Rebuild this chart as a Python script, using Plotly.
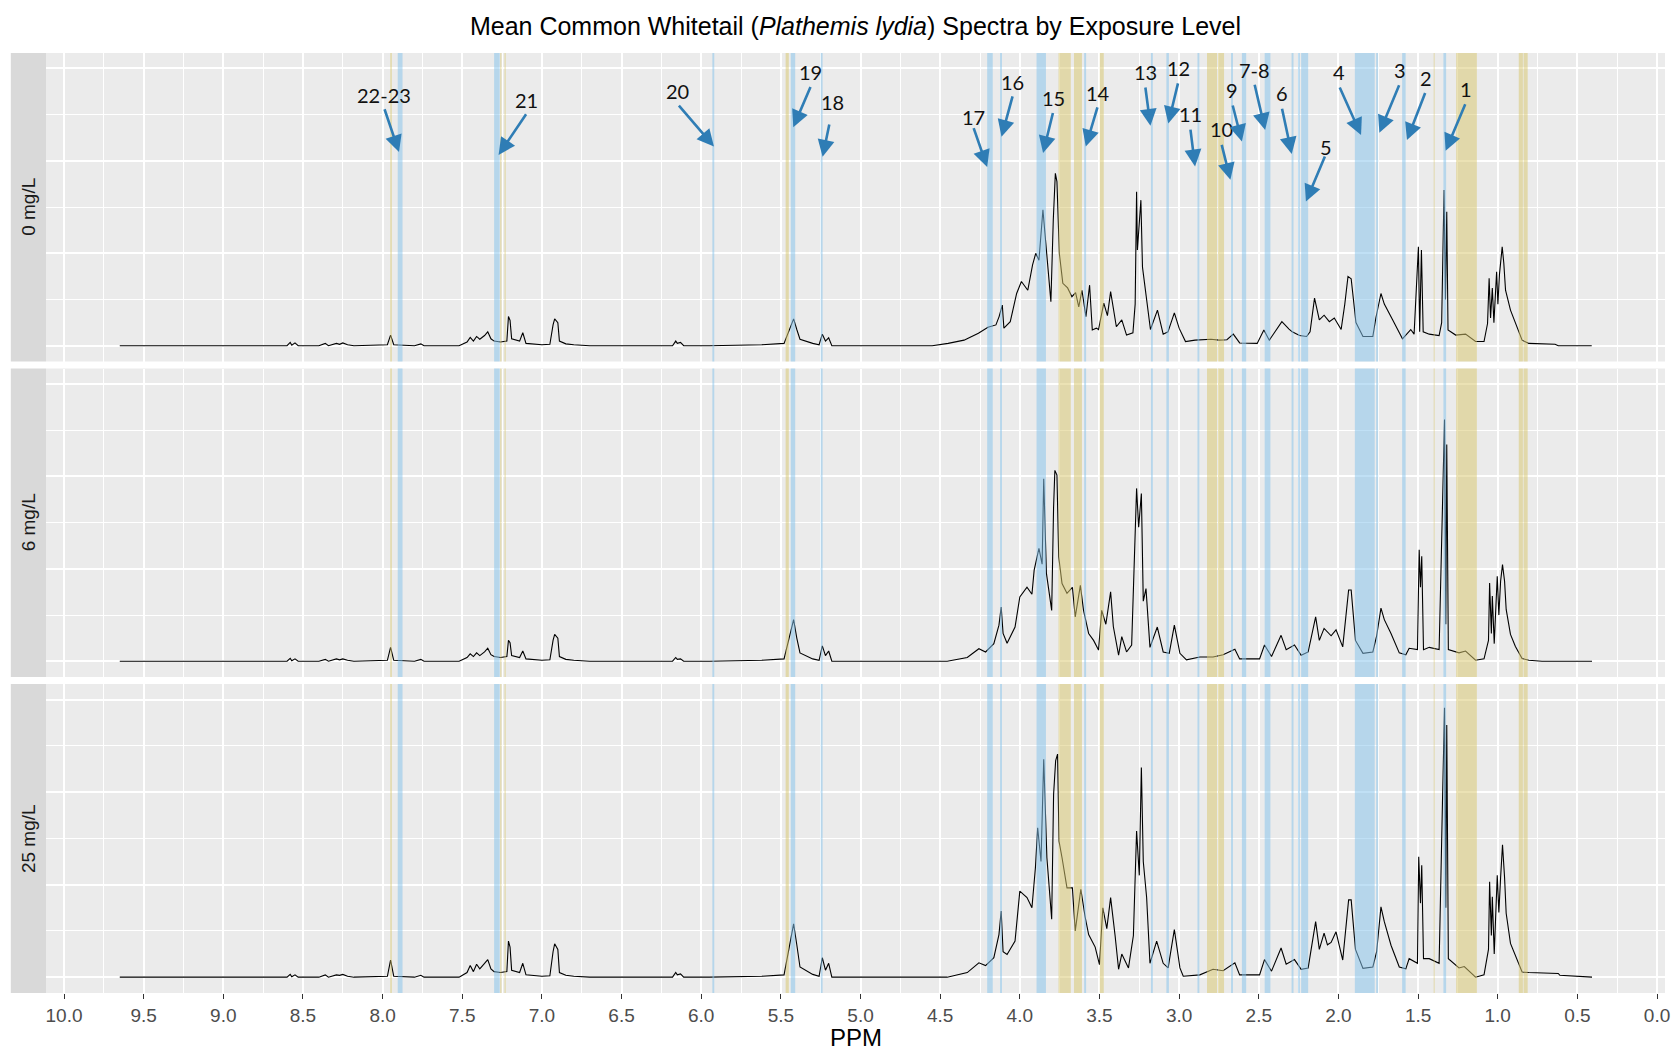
import plotly.graph_objects as go
from plotly.subplots import make_subplots

# ---------------- data ----------------
panel_labels = ["0 mg/L", "6 mg/L", "25 mg/L"]

# aromatic / low-field region (shared ppm grid)
left_ppm = [9.65, 8.60, 8.58, 8.57, 8.55, 8.53, 8.40, 8.36, 8.34, 8.29,
            8.27, 8.25, 8.22, 8.18, 7.97, 7.95, 7.93, 7.80, 7.76, 7.74,
            7.52, 7.47, 7.45, 7.43, 7.41, 7.39, 7.36, 7.34, 7.32, 7.30,
            7.26, 7.22, 7.21, 7.20, 7.19, 7.14, 7.12, 7.10, 7.00, 6.95,
            6.93, 6.92, 6.90, 6.89, 6.85, 6.80, 6.70, 6.18, 6.16, 6.15,
            6.13, 6.11, 5.95, 5.62, 5.48, 5.42, 5.40, 5.38, 5.30, 5.26,
            5.24, 5.22, 5.20, 5.18, 4.55]
left_int_0 = [0, 0, 0.07, 0.01, 0.06, 0, 0, 0.05, 0, 0.05,
              0.03, 0.06, 0.02, 0, 0.02, 0.23, 0.02, 0, 0.04, 0,
              0, 0.08, 0.18, 0.10, 0.20, 0.14, 0.22, 0.30, 0.15, 0.10,
              0.08, 0.10, 0.63, 0.55, 0.15, 0.10, 0.28, 0.05, 0.02, 0.03,
              0.45, 0.58, 0.50, 0.10, 0.04, 0.02, 0, 0, 0.10, 0.05,
              0.07, 0, 0, 0.02, 0.05, 0.58, 0.35, 0.14, 0.05, 0.02,
              0.25, 0.10, 0.17, 0, 0]
left_int_6 = [0, 0, 0.06, 0.01, 0.05, 0, 0, 0.04, 0, 0.05,
              0.03, 0.05, 0.02, 0, 0.02, 0.30, 0.02, 0, 0.04, 0,
              0, 0.08, 0.16, 0.10, 0.18, 0.12, 0.20, 0.28, 0.14, 0.10,
              0.08, 0.10, 0.45, 0.40, 0.12, 0.08, 0.22, 0.05, 0.02, 0.03,
              0.45, 0.58, 0.50, 0.10, 0.04, 0.02, 0, 0, 0.08, 0.04,
              0.05, 0, 0, 0.02, 0.05, 0.90, 0.50, 0.18, 0.05, 0.02,
              0.33, 0.12, 0.22, 0, 0]
left_int_25 = [0, 0, 0.06, 0.01, 0.05, 0, 0, 0.05, 0, 0.05,
               0.04, 0.06, 0.02, 0, 0.02, 0.37, 0.02, 0, 0.04, 0,
               0, 0.10, 0.25, 0.12, 0.28, 0.18, 0.30, 0.38, 0.18, 0.12,
               0.10, 0.12, 0.78, 0.65, 0.15, 0.10, 0.30, 0.05, 0.02, 0.03,
               0.55, 0.72, 0.60, 0.10, 0.04, 0.02, 0, 0, 0.10, 0.05,
               0.07, 0, 0, 0.02, 0.05, 1.15, 0.70, 0.22, 0.06, 0.02,
               0.42, 0.15, 0.30, 0, 0]

# aliphatic / high-field region, 0 mg/L
right_ppm_0 = [4.45, 4.35, 4.26, 4.20, 4.15, 4.13, 4.11, 4.10, 4.06, 4.02,
               3.99, 3.95, 3.92, 3.90, 3.88, 3.855, 3.83, 3.805, 3.79, 3.777,
               3.767, 3.752, 3.73, 3.70, 3.673, 3.65, 3.63, 3.61, 3.585, 3.562,
               3.545, 3.52, 3.506, 3.473, 3.45, 3.43, 3.394, 3.36, 3.33, 3.29,
               3.276, 3.267, 3.262, 3.24, 3.23, 3.21, 3.18, 3.136, 3.10, 3.07,
               3.03, 3.00, 2.96, 2.90, 2.80, 2.75, 2.70, 2.66, 2.62, 2.51,
               2.468, 2.434, 2.355, 2.31, 2.29, 2.244, 2.20, 2.178, 2.15, 2.12,
               2.09, 2.057, 2.026, 1.983, 1.96, 1.94, 1.92, 1.89, 1.846, 1.784,
               1.765, 1.733, 1.712, 1.66, 1.598, 1.546, 1.525, 1.498, 1.49, 1.479,
               1.468, 1.43, 1.368, 1.352, 1.345, 1.337, 1.328, 1.32, 1.312, 1.264,
               1.202, 1.139, 1.086, 1.064, 1.054, 1.045, 1.034, 1.024, 1.007, 0.999,
               0.989, 0.972, 0.962, 0.951, 0.92, 0.889, 0.847, 0.805, 0.64, 0.62,
               0.41]
right_int_0 = [0.05, 0.12, 0.27, 0.40, 0.45, 0.63, 0.88, 0.38, 0.52, 1.13,
               1.39, 1.20, 1.75, 2.00, 1.85, 2.94, 1.93, 0.95, 2.72, 3.73,
               3.55, 2.00, 1.35, 1.25, 1.06, 1.15, 0.84, 1.20, 0.63, 1.31,
               0.34, 0.38, 0.35, 0.92, 0.65, 1.17, 0.41, 0.56, 0.23, 0.28,
               0.90, 3.33, 2.07, 3.15, 1.70, 1.13, 0.35, 0.77, 0.25, 0.30,
               0.71, 0.38, 0.09, 0.12, 0.14, 0.12, 0.13, 0.25, 0.06, 0.05,
               0.34, 0.12, 0.52, 0.36, 0.30, 0.22, 0.20, 0.30, 1.03, 0.56,
               0.66, 0.52, 0.60, 0.35, 0.90, 1.50, 1.45, 0.50, 0.20, 0.20,
               0.60, 1.13, 0.90, 0.56, 0.15, 0.35, 0.25, 2.14, 0.30, 2.07,
               0.30, 0.25, 0.22, 0.50, 2.30, 3.37, 1.00, 2.90, 0.34, 0.23,
               0.25, 0.09, 0.09, 0.48, 1.46, 0.60, 1.25, 0.50, 1.60, 0.90,
               1.55, 2.14, 1.79, 1.20, 0.77, 0.49, 0.12, 0.05, 0.03, 0.0,
               0.0]

# 6 mg/L
right_ppm_6 = [4.456, 4.33, 4.257, 4.215, 4.163, 4.131, 4.117, 4.105, 4.08, 4.03,
               4.0, 3.955, 3.924, 3.91, 3.88, 3.86, 3.85, 3.833, 3.80, 3.788,
               3.78, 3.767, 3.756, 3.735, 3.704, 3.67, 3.652, 3.62, 3.60, 3.568,
               3.537, 3.506, 3.486, 3.46, 3.43, 3.413, 3.38, 3.36, 3.33, 3.298,
               3.277, 3.267, 3.254, 3.237, 3.225, 3.208, 3.183, 3.137, 3.10, 3.062,
               3.03, 2.995, 2.954, 2.87, 2.787, 2.724, 2.65, 2.62, 2.495, 2.464,
               2.42, 2.36, 2.328, 2.276, 2.234, 2.19, 2.143, 2.12, 2.09, 2.046,
               2.015, 1.973, 1.936, 1.92, 1.893, 1.846, 1.784, 1.76, 1.733, 1.712,
               1.67, 1.618, 1.577, 1.556, 1.504, 1.493, 1.485, 1.477, 1.466, 1.43,
               1.368, 1.347, 1.334, 1.326, 1.32, 1.31, 1.243, 1.202, 1.139, 1.086,
               1.058, 1.051, 1.04, 1.034, 1.022, 1.003, 0.993, 0.982, 0.97, 0.957,
               0.947, 0.92, 0.889, 0.847, 0.805, 0.722, 0.408]
right_int_6 = [0.0, 0.08, 0.27, 0.20, 0.38, 0.78, 1.17, 0.60, 0.39, 0.74,
               1.39, 1.60, 1.45, 1.97, 2.44, 2.10, 3.95, 1.90, 1.10, 3.34,
               4.13, 4.03, 2.26, 1.68, 1.47, 1.60, 0.96, 1.64, 1.10, 0.60,
               0.45, 0.24, 1.10, 0.80, 1.50, 0.75, 0.13, 0.53, 0.20, 0.35,
               2.69, 3.74, 2.90, 3.63, 1.30, 1.57, 0.30, 0.74, 0.20, 0.17,
               0.78, 0.17, 0.03, 0.09, 0.09, 0.14, 0.26, 0.05, 0.05, 0.35,
               0.10, 0.56, 0.25, 0.35, 0.13, 0.20, 0.96, 0.45, 0.71, 0.55,
               0.68, 0.31, 1.54, 1.54, 0.45, 0.17, 0.20, 0.55, 1.15, 0.90,
               0.60, 0.18, 0.14, 0.28, 0.25, 2.41, 1.60, 2.27, 0.25, 0.30,
               0.25, 3.27, 5.23, 0.80, 4.69, 0.25, 0.18, 0.22, 0.02, 0.05,
               0.45, 1.69, 0.60, 1.41, 0.38, 1.84, 1.00, 1.73, 2.09, 1.73,
               1.12, 0.58, 0.32, 0.06, 0.02, 0.0, 0.0]

# 25 mg/L
right_ppm_25 = [4.456, 4.33, 4.257, 4.215, 4.163, 4.131, 4.117, 4.105, 4.08, 4.03,
                4.0, 3.955, 3.924, 3.902, 3.888, 3.867, 3.85, 3.83, 3.80, 3.788,
                3.775, 3.763, 3.754, 3.735, 3.704, 3.67, 3.652, 3.617, 3.59, 3.568,
                3.527, 3.50, 3.479, 3.454, 3.43, 3.402, 3.38, 3.36, 3.318, 3.287,
                3.267, 3.25, 3.237, 3.225, 3.204, 3.183, 3.141, 3.10, 3.069, 3.03,
                2.995, 2.974, 2.87, 2.787, 2.724, 2.65, 2.62, 2.495, 2.464, 2.42,
                2.36, 2.328, 2.276, 2.234, 2.19, 2.143, 2.12, 2.09, 2.069, 2.046,
                2.015, 1.973, 1.936, 1.92, 1.893, 1.846, 1.784, 1.76, 1.733, 1.712,
                1.67, 1.618, 1.577, 1.556, 1.504, 1.496, 1.485, 1.477, 1.466, 1.43,
                1.368, 1.347, 1.334, 1.326, 1.32, 1.31, 1.243, 1.21, 1.139, 1.086,
                1.058, 1.051, 1.04, 1.034, 1.022, 1.003, 0.993, 0.982, 0.97, 0.957,
                0.947, 0.92, 0.889, 0.847, 0.805, 0.62, 0.61, 0.408]
right_int_25 = [0.0, 0.10, 0.31, 0.25, 0.42, 0.92, 1.43, 0.55, 0.49, 0.78,
                1.86, 1.72, 1.50, 2.37, 3.23, 2.50, 4.71, 2.58, 1.25, 3.95,
                4.68, 4.82, 2.94, 2.58, 1.93, 1.93, 1.00, 1.90, 1.30, 0.92,
                0.65, 0.27, 1.50, 1.05, 1.72, 0.90, 0.17, 0.50, 0.20, 0.90,
                3.16, 2.20, 4.53, 2.50, 1.72, 0.30, 0.78, 0.30, 0.20, 1.03,
                0.20, 0.02, 0.05, 0.17, 0.14, 0.31, 0.05, 0.05, 0.38, 0.13,
                0.63, 0.28, 0.38, 0.17, 0.20, 1.20, 0.60, 0.95, 0.70, 0.75,
                0.98, 0.37, 1.67, 1.67, 0.60, 0.19, 0.22, 0.55, 1.52, 1.20,
                0.69, 0.22, 0.18, 0.40, 0.30, 2.60, 1.60, 2.42, 0.40, 0.40,
                0.30, 3.76, 5.82, 1.50, 5.45, 0.40, 0.20, 0.23, 0.0, 0.05,
                0.60, 2.06, 0.90, 1.74, 0.50, 2.20, 1.40, 2.15, 2.86, 2.15,
                1.38, 0.73, 0.45, 0.11, 0.10, 0.08, 0.04, 0.0]

# highlighted bins (ppm ranges)
blue_lo = [7.875, 7.265, 5.918, 5.410, 5.238, 4.170, 4.112, 3.836, 3.584, 3.165, 3.064,
           2.873, 2.662, 2.579, 2.427, 2.282, 2.242, 2.190, 1.772, 1.751, 1.578, 1.324]
blue_hi = [7.905, 7.300, 5.930, 5.438, 5.250, 4.205, 4.124, 3.895, 3.596, 3.177, 3.080,
           2.885, 2.674, 2.606, 2.463, 2.294, 2.254, 2.234, 1.897, 1.763, 1.600, 1.341]
tan_lo = [7.942, 7.254, 7.227, 5.450, 3.680, 3.610, 3.473, 2.762, 2.718, 1.396, 1.131, 0.842, 0.812]
tan_hi = [7.952, 7.262, 7.235, 5.470, 3.757, 3.660, 3.498, 2.825, 2.756, 1.402, 1.261, 0.868, 0.838]

# peak annotations in the 0 mg/L panel: label, text pos, arrow tail, arrow head (ppm, intensity)
ann_label = ["22-23", "21", "20", "19", "18", "17", "16", "15", "14", "13", "12",
             "11", "10", "9", "7-8", "6", "5", "4", "3", "2", "1"]
ann_text_x = [7.991, 7.096, 6.148, 5.314, 5.175, 4.293, 4.043, 3.790, 3.510, 3.213, 3.005,
              2.930, 2.735, 2.666, 2.528, 2.356, 2.081, 1.996, 1.615, 1.452, 1.200]
ann_text_y = [5.43, 5.32, 5.52, 5.93, 5.28, 4.95, 5.71, 5.37, 5.48, 5.93, 6.00,
              5.01, 4.68, 5.54, 5.97, 5.46, 4.29, 5.93, 5.97, 5.80, 5.55]
ann_tail_x = [7.991, 7.093, 6.148, 5.310, 5.194, 4.293, 4.043, 3.790, 3.510, 3.213, 3.005,
              2.930, 2.735, 2.666, 2.528, 2.356, 2.081, 1.996, 1.615, 1.452, 1.200]
ann_tail_y = [5.15, 5.04, 5.23, 5.63, 4.82, 4.74, 5.43, 5.07, 5.19, 5.62, 5.71,
              4.71, 4.38, 5.23, 5.68, 5.16, 4.13, 5.62, 5.67, 5.50, 5.26]
ann_head_x = [7.897, 7.272, 5.920, 5.422, 5.238, 4.205, 4.115, 3.854, 3.586, 3.180, 3.068,
              2.900, 2.678, 2.606, 2.460, 2.293, 2.204, 1.858, 1.743, 1.570, 1.327]
ann_head_y = [4.19, 4.13, 4.31, 4.73, 4.09, 3.87, 4.52, 4.17, 4.31, 4.76, 4.81,
              3.88, 3.59, 4.42, 4.67, 4.15, 3.12, 4.56, 4.61, 4.45, 4.22]

x_ticks = [10.0, 9.5, 9.0, 8.5, 8.0, 7.5, 7.0, 6.5, 6.0, 5.5, 5.0,
           4.5, 4.0, 3.5, 3.0, 2.5, 2.0, 1.5, 1.0, 0.5, 0.0]

# ---------------- figure ----------------
W, H = 1677, 1050
ML, MR, MT, MB = 46, 7, 53, 57
PW = W - ML - MR
PH = H - MT - MB

panel_px = [(53, 361.5), (368.5, 677), (684, 993)]
domains = [[(H - MB - b) / PH, (H - MB - t) / PH] for t, b in panel_px]
domains[0][1] = 1.0
domains[2][0] = 0.0

fig = make_subplots(rows=3, cols=1, shared_xaxes=True, vertical_spacing=0.01)

series = [(left_ppm + right_ppm_0, left_int_0 + right_int_0),
          (left_ppm + right_ppm_6, left_int_6 + right_int_6),
          (left_ppm + right_ppm_25, left_int_25 + right_int_25)]

for i, (xs, ys) in enumerate(series):
    fig.add_trace(go.Scatter(x=xs, y=ys, mode="lines",
                             line=dict(color="black", width=1.1),
                             showlegend=False, hoverinfo="skip"),
                  row=i + 1, col=1)

BLUE = "rgba(135,196,235,0.52)"
TAN = "rgba(217,199,111,0.52)"

shapes = []
for i in range(3):
    xr = "x" if i == 0 else f"x{i+1}"
    yr = ("y" if i == 0 else f"y{i+1}") + " domain"
    for lo, hi in zip(blue_lo, blue_hi):
        shapes.append(dict(type="rect", xref=xr, yref=yr, x0=hi, x1=lo, y0=0, y1=1,
                           fillcolor=BLUE, line=dict(width=0), layer="above"))
    for lo, hi in zip(tan_lo, tan_hi):
        shapes.append(dict(type="rect", xref=xr, yref=yr, x0=hi, x1=lo, y0=0, y1=1,
                           fillcolor=TAN, line=dict(width=0), layer="above"))
    # facet strip
    shapes.append(dict(type="rect", xref="paper", yref="paper",
                       x0=-(ML - 10.7) / PW, x1=0, y0=domains[i][0], y1=domains[i][1],
                       fillcolor="#D9D9D9", line=dict(width=0), layer="below"))

annotations = []
for i, lab in enumerate(panel_labels):
    annotations.append(dict(text=lab, xref="paper", yref="paper",
                            x=-(ML - 28.5) / PW, y=(domains[i][0] + domains[i][1]) / 2,
                            textangle=-90, showarrow=False, xanchor="center", yanchor="middle",
                            font=dict(family="Liberation Sans, Arial", size=19, color="#1A1A1A")))

ARROW = "#2F7DB5"
for lab, tx, ty, ax_, ay_, hx, hy in zip(ann_label, ann_text_x, ann_text_y,
                                         ann_tail_x, ann_tail_y, ann_head_x, ann_head_y):
    annotations.append(dict(text="", x=hx, y=hy, xref="x", yref="y",
                            ax=ax_, ay=ay_, axref="x", ayref="y",
                            showarrow=True, arrowhead=2, arrowsize=1.3,
                            arrowwidth=2.6, arrowcolor=ARROW, standoff=0))
    annotations.append(dict(text=lab, x=tx, y=ty, xref="x", yref="y", showarrow=False,
                            xanchor="center", yanchor="middle",
                            font=dict(family="Lato, Open Sans, sans-serif", size=20, color="#111111")))

annotations.append(dict(text="PPM", xref="paper", yref="paper", x=0.5,
                        y=(H - MB - 1037) / PH, showarrow=False,
                        xanchor="center", yanchor="middle",
                        font=dict(family="Liberation Sans, Arial", size=24, color="black")))

fig.update_layout(
    width=W, height=H,
    margin=dict(l=ML, r=MR, t=MT, b=MB),
    paper_bgcolor="white", plot_bgcolor="#EBEBEB",
    title=dict(text="Mean Common Whitetail (<i>Plathemis lydia</i>) Spectra by Exposure Level",
               x=0.5, xref="paper", xanchor="center",
               y=1 - 26 / H, yref="container", yanchor="middle",
               font=dict(family="Liberation Sans, Arial", size=25, color="black")),
    shapes=shapes, annotations=annotations, showlegend=False,
)

for i in range(3):
    xname = "xaxis" if i == 0 else f"xaxis{i+1}"
    yname = "yaxis" if i == 0 else f"yaxis{i+1}"
    fig.layout[yname].update(
        domain=domains[i], range=[-0.342, 6.335], showticklabels=False, ticks="",
        showgrid=True, gridcolor="white", gridwidth=2, tick0=0, dtick=2,
        minor=dict(dtick=1, showgrid=True, gridcolor="white", gridwidth=1),
        zeroline=False, showline=False, fixedrange=True)
    fig.layout[xname].update(
        range=[10.113, -0.05], tickmode="array", tickvals=x_ticks,
        ticktext=[f"{v:.1f}" for v in x_ticks],
        showgrid=True, gridcolor="white", gridwidth=2,
        minor=dict(tickmode="array", tickvals=[v - 0.25 for v in x_ticks if v > 0] + [10.25],
                   showgrid=True, gridcolor="white", gridwidth=1),
        zeroline=False, showline=False,
        showticklabels=(i == 2), ticks="outside" if i == 2 else "",
        ticklen=5, tickwidth=1.3, tickcolor="#333333",
        tickfont=dict(family="Liberation Sans, Arial", size=19, color="#4D4D4D"))

fig.write_html("out.html")
